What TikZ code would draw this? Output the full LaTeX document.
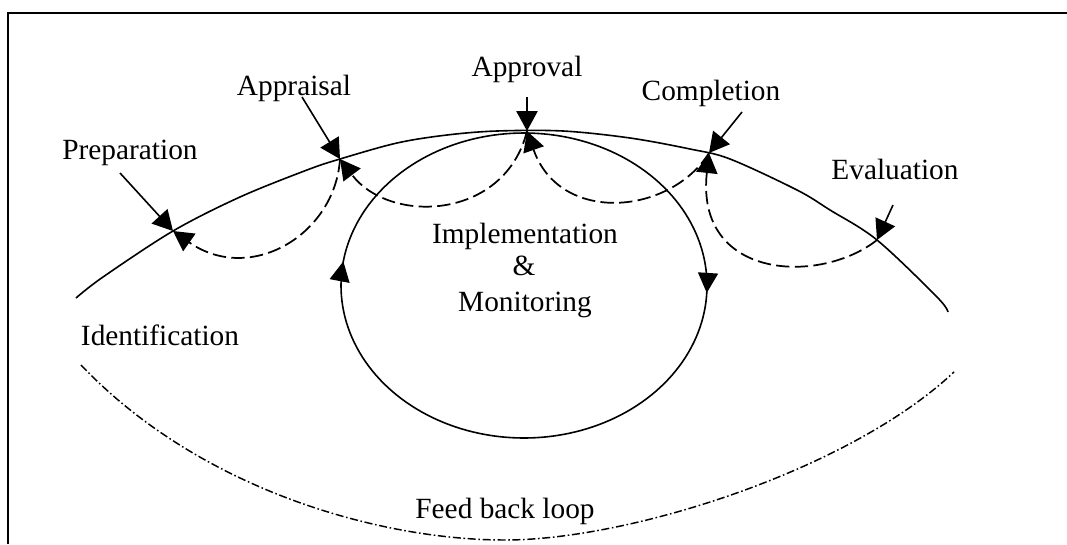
\documentclass[tikz,border=0pt]{standalone}
\usepackage{fontspec}
\setmainfont{Liberation Serif}
\usetikzlibrary{arrows.meta,decorations.markings}
\begin{document}
\begin{tikzpicture}[x=0.75pt,y=-0.75pt,
  lbl/.style={font=\fontsize{22}{26}\selectfont, inner sep=0pt, anchor=base},
  solidline/.style={line width=1.2pt},
  tip/.style={-{Triangle[length=15pt,width=16pt]}},
  loopline/.style={line width=1.3pt, dash pattern=on 10pt off 4pt},
  fbline/.style={line width=1.1pt, dash pattern=on 6pt off 2pt on 1.2pt off 2pt},
  cyctip/.style={decoration={markings,
     mark=at position 0.007 with {\arrow{Triangle[length=15pt,width=15pt]}},
     mark=at position 0.523 with {\arrow{Triangle[length=15pt,width=15pt]}}},
     postaction={decorate}}]
\useasboundingbox (0,0) rectangle (1067,544);
% frame
\draw[line width=1.5pt] (1067,12.5) -- (7.5,12.5) -- (7.5,544);

% points on the project-cycle arc
\coordinate (pPrep) at (173,231);
\coordinate (pAppr) at (340,159);
\coordinate (pApprov) at (527,131);
\coordinate (pCompl) at (709,153);
\coordinate (pEval) at (877,240);

% label arrow tails
\coordinate (tPrep) at (120,173);
\coordinate (tAppr) at (302,97);
\coordinate (tApprov) at (527,97);
\coordinate (tCompl) at (742,112);
\coordinate (tEval) at (893,205);

% main arc
\draw[solidline] plot[smooth, tension=0.55] coordinates {(76,298) (103,277) (173,231) (240,197) (307,170) (340,159) (397,143) (447,135) (497,131) (563,131) (630,138) (690,149) (730,159) (797,190) (830,210) (877,240) (937,297) (948,312)};

% implementation & monitoring cycle
\draw[solidline, cyctip] plot[domain=0:360, samples=181] ({524+183*cos(\x)}, {285.5+152.5*sin(\x)});

% label arrows
\draw[solidline, tip] (tPrep) -- (pPrep);
\draw[solidline, tip] (tAppr) -- (pAppr);
\draw[solidline, tip] (tApprov) -- (pApprov);
\draw[solidline, tip] (tCompl) -- (pCompl);
\draw[solidline, tip] (tEval) -- (pEval);

% dashed loops
\draw[loopline, tip] (pAppr) .. controls (335,235) and (250,285) .. (pPrep);
\draw[loopline, tip] (pApprov) .. controls (505,220) and (390,225) .. (pAppr);
\draw[loopline, tip] (pCompl) .. controls (670,215) and (560,225) .. (pApprov);
\draw[loopline, tip] (pEval) .. controls (820,285) and (695,280) .. (pCompl);

% feedback loop
\coordinate (fbL) at (81,365);
\coordinate (fbB) at (505,540);
\coordinate (fbR) at (954,372);
\draw[fbline] (fbL) .. controls (200,490) and (380,540) .. (fbB)
  .. controls (630,540) and (850,470) .. (fbR);

% labels
\node[lbl] (lPrep) at (130,159) {Preparation};
\node[lbl] (lAppr) at (294,95) {Appraisal};
\node[lbl] (lApprov) at (527,76) {Approval};
\node[lbl] (lCompl) at (711,100) {Completion};
\node[lbl] (lEval) at (895,179) {Evaluation};
\node[lbl] (lImpl) at (525,243) {Implementation};
\node[lbl] (lAmp) at (524,275) {\&};
\node[lbl] (lMon) at (525,311) {Monitoring};
\node[lbl] (lIdent) at (160,345) {Identification};
\node[lbl] (lFeed) at (505,518) {Feed back loop};
\end{tikzpicture}
\end{document}
